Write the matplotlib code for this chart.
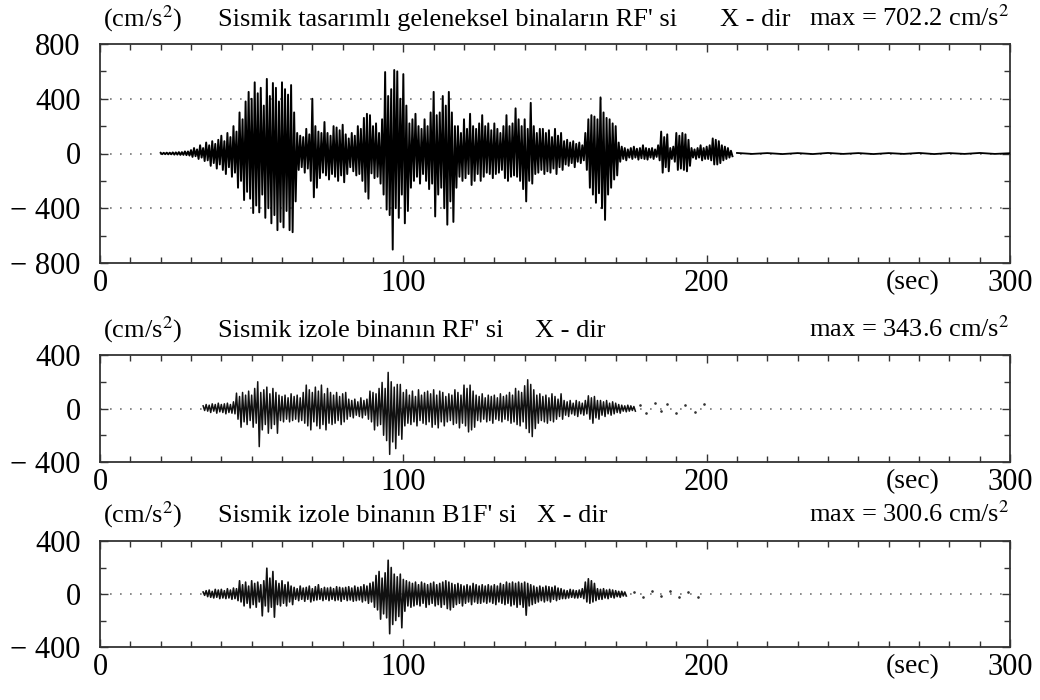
import numpy as np
import matplotlib
matplotlib.use('Agg')
import matplotlib.pyplot as plt
from matplotlib.ticker import MultipleLocator, FixedLocator

plt.rcParams['font.family'] = ['Liberation Serif', 'DejaVu Serif']
plt.rcParams['mathtext.fontset'] = 'stix'

# ---- panel 1 : sismik tasarimli geleneksel bina, RF (peaks read every 1 s, from t = 20 s)
rf1_start = 20
rf1_hi = [5, 5, 6, 6, 8, 8, 10, 10, 15, 15,
          25, 40, 30, 60, 40, 80, 60, 90, 70, 100,
          130, 90, 150, 120, 200, 160, 300, 250, 380, 450,
          400, 520, 440, 480, 350, 545, 420, 515, 480, 380,
          520, 470, 430, 500, 300, 150, 130, 120, 180, 140,
          400, 200, 160, 150, 230, 150, 130, 200, 190, 170,
          210, 140, 110, 150, 130, 200, 180, 260, 290, 280,
          200, 220, 150, 250, 595, 420, 470, 610, 600, 400,
          580, 350, 220, 250, 290, 200, 180, 250, 200, 300,
          450, 280, 300, 420, 350, 450, 300, 200, 200, 150,
          250, 180, 290, 200, 180, 220, 280, 200, 220, 170,
          220, 180, 150, 200, 280, 200, 220, 330, 250, 200,
          250, 180, 370, 200, 150, 180, 180, 150, 170, 120,
          180, 130, 150, 90, 100, 80, 90, 70, 80, 60,
          150, 250, 280, 270, 250, 410, 300, 260, 250, 220,
          200, 80, 50, 40, 30, 40, 50, 35, 40, 60,
          40, 35, 40, 30, 60, 160, 120, 140, 40, 50,
          150, 130, 150, 140, 100, 40, 30, 40, 60, 40,
          50, 60, 110, 100, 90, 60, 50, 40, 20]
rf1_lo = [-5, -5, -6, -6, -8, -8, -10, -10, -12, -15,
          -25, -20, -40, -30, -55, -50, -90, -70, -110, -80,
          -120, -150, -100, -170, -140, -250, -200, -340, -280, -330,
          -435, -380, -430, -300, -470, -400, -510, -450, -560, -500,
          -540, -420, -560, -575, -350, -120, -100, -140, -110, -200,
          -320, -250, -180, -140, -160, -190, -150, -170, -200, -160,
          -210, -150, -100, -130, -160, -150, -200, -280, -330, -145,
          -180, -170, -220, -300, -410, -450, -702, -400, -470, -300,
          -510, -420, -250, -200, -170, -220, -150, -200, -260, -220,
          -460, -300, -250, -400, -520, -350, -500, -250, -170, -200,
          -180, -150, -230, -200, -150, -200, -170, -140, -150, -180,
          -150, -140, -120, -180, -200, -170, -160, -170, -200, -260,
          -350, -200, -220, -150, -140, -120, -150, -130, -140, -110,
          -150, -100, -120, -80, -90, -70, -100, -60, -70, -50,
          -120, -250, -300, -360, -290, -400, -485, -300, -250, -190,
          -160, -60, -40, -50, -30, -40, -30, -45, -35, -40,
          -45, -30, -40, -25, -50, -140, -100, -130, -40, -60,
          -120, -110, -120, -130, -90, -30, -40, -30, -50, -40,
          -40, -50, -80, -80, -70, -50, -40, -30, -20]
# quiet tail after 210 s
rf1_tail_t = [210, 215, 220, 225, 230, 235, 240, 245, 250, 255, 260, 265, 270, 275, 280, 285, 290, 295, 300]
rf1_tail_v = [4, -3, 3, -4, 3, -4, 4, -3, 3, -4, 3, -3, 4, -4, 3, -3, 4, -3, 2]

# ---- panel 2 : sismik izole bina, RF (from t = 34 s)
rf2_start = 34
rf2_hi = [20, 30, 25, 35, 30, 40, 30, 35, 40, 30,
          50, 115, 90, 120, 100, 130, 100, 150, 200, 120,
          140, 160, 110, 150, 120, 100, 90, 100, 80, 110,
          90, 100, 80, 120, 175, 140, 120, 160, 130, 175,
          110, 150, 120, 100, 120, 90, 110, 120, 70, 60,
          70, 50, 80, 60, 70, 130, 120, 110, 150, 195,
          150, 270, 200, 160, 180, 180, 120, 140, 100, 130,
          90, 140, 100, 120, 130, 110, 140, 100, 130, 120,
          90, 110, 100, 140, 120, 100, 175, 150, 175, 130,
          100, 90, 110, 80, 100, 90, 100, 80, 110, 90,
          100, 120, 100, 150, 130, 120, 170, 215, 180, 140,
          100, 110, 90, 100, 80, 110, 90, 70, 110, 60,
          50, 60, 40, 60, 50, 40, 60, 95, 80, 90,
          60, 60, 50, 60, 40, 50, 40, 30, 25, 20,
          25, 20, 15]
rf2_lo = [-15, -20, -30, -20, -35, -25, -30, -40, -30, -35,
          -40, -80, -140, -100, -120, -90, -140, -110, -285, -160,
          -120, -185, -150, -120, -185, -90, -100, -80, -100, -90,
          -80, -100, -90, -110, -130, -160, -100, -130, -150, -120,
          -160, -110, -120, -110, -90, -120, -100, -80, -60, -70,
          -50, -60, -70, -50, -80, -100, -160, -130, -120, -200,
          -240, -343, -250, -300, -200, -230, -130, -110, -120, -100,
          -130, -90, -110, -120, -100, -140, -120, -145, -100, -130,
          -100, -90, -120, -110, -145, -110, -130, -175, -160, -140,
          -90, -100, -80, -100, -90, -110, -80, -90, -100, -80,
          -90, -110, -100, -120, -130, -100, -150, -180, -210, -150,
          -110, -90, -100, -110, -90, -100, -80, -60, -80, -50,
          -60, -40, -50, -60, -40, -50, -40, -80, -110, -70,
          -80, -50, -60, -40, -50, -40, -30, -35, -20, -25,
          -20, -15, -20]
rf2_dot_t = [178, 180, 183, 185, 187, 190, 193, 196, 199]
rf2_dot_v = [25, -30, 40, -20, 30, -35, 25, -25, 35]

# ---- panel 3 : sismik izole bina, B1F (from t = 34 s)
b1_start = 34
b1_hi = [15, 25, 30, 20, 35, 30, 35, 25, 40, 30,
         45, 40, 100, 70, 90, 60, 100, 80, 90, 70,
         100, 195, 120, 170, 100, 80, 100, 70, 90, 60,
         50, 40, 60, 45, 50, 60, 40, 55, 70, 40,
         50, 45, 50, 40, 55, 50, 45, 50, 55, 45,
         60, 50, 55, 70, 60, 80, 90, 140, 170, 120,
         160, 255, 200, 150, 130, 150, 110, 100, 90, 80,
         90, 70, 90, 80, 70, 80, 90, 70, 80, 90,
         100, 90, 80, 70, 80, 70, 60, 70, 60, 80,
         70, 60, 70, 60, 70, 60, 70, 60, 80, 70,
         90, 80, 90, 80, 90, 80, 90, 80, 70, 60,
         50, 60, 50, 60, 55, 50, 60, 45, 40, 30,
         25, 35, 30, 25, 30, 40, 90, 115, 100, 80,
         40, 35, 40, 30, 35, 30, 25, 20, 20, 15]
b1_lo = [-10, -20, -25, -30, -25, -35, -30, -35, -30, -40,
         -35, -50, -60, -90, -70, -105, -80, -100, -60, -165,
         -90, -135, -100, -175, -80, -90, -70, -90, -60, -80,
         -40, -50, -40, -55, -40, -60, -50, -45, -40, -50,
         -40, -50, -40, -50, -45, -55, -40, -50, -45, -55,
         -50, -45, -60, -50, -70, -60, -100, -120, -190, -150,
         -180, -300, -230, -200, -170, -255, -130, -90, -100, -90,
         -80, -90, -70, -100, -80, -70, -90, -80, -100, -80,
         -110, -120, -100, -80, -70, -90, -70, -60, -80, -60,
         -70, -70, -60, -70, -60, -70, -80, -60, -70, -80,
         -70, -90, -80, -100, -80, -100, -160, -90, -80, -70,
         -60, -50, -60, -50, -60, -40, -50, -40, -35, -35,
         -30, -25, -30, -30, -25, -35, -60, -70, -60, -50,
         -40, -40, -30, -35, -25, -30, -20, -25, -15, -15]
b1_dot_t = [176, 179, 182, 185, 188, 191, 194, 197]
b1_dot_v = [15, -20, 20, -15, 25, -20, 15, -20]

titles = ["Sismik tasarımlı geleneksel binaların RF' si",
          "Sismik izole binanın RF' si",
          "Sismik izole binanın B1F' si"]
max_text = ["max = 702.2 cm/s$^2$", "max = 343.6 cm/s$^2$", "max = 300.6 cm/s$^2$"]


def trace(ax, start, hi, lo, color, lw):
    t = start + np.arange(len(hi))
    x = np.column_stack([t, t + 0.5]).ravel()
    y = np.column_stack([hi, lo]).ravel()
    ax.plot(x, y, color=color, lw=lw, zorder=3)


W, H = 1040, 700
fig = plt.figure(figsize=(W / 100, H / 100), dpi=100)

# axes boxes in pixels (left, top, right, bottom)
boxes = [(100, 44, 1010, 263), (100, 355, 1010, 462), (100, 541, 1010, 647)]
axes = []
for (l, t, r, b) in boxes:
    axes.append(fig.add_axes([l / W, 1 - b / H, (r - l) / W, (b - t) / H]))

ax1, ax2, ax3 = axes
trace(ax1, rf1_start, rf1_hi, rf1_lo, 'black', 1.4)
ax1.plot(rf1_tail_t, rf1_tail_v, color='black', lw=1.3, zorder=3)
trace(ax2, rf2_start, rf2_hi, rf2_lo, '#111111', 1.1)
ax2.scatter(rf2_dot_t, rf2_dot_v, s=0.8, color='#333333', zorder=3)
trace(ax3, b1_start, b1_hi, b1_lo, '#111111', 1.2)
ax3.scatter(b1_dot_t, b1_dot_v, s=0.8, color='#333333', zorder=3)

ax1.set_ylim(-800, 800)
ax1.yaxis.set_major_locator(FixedLocator([-800, -400, 0, 400, 800]))
ax1.yaxis.set_minor_locator(FixedLocator([-600, -200, 200, 600]))
ax1.set_yticklabels(['\u2212 800', '\u2212 400', '0', '400', '800'])
for y in (-400, 0, 400):
    ax1.axhline(y, color='#777777', lw=1.2, ls=(0, (1, 5)), zorder=1)

for ax in (ax2, ax3):
    ax.set_ylim(-400, 400)
    ax.yaxis.set_major_locator(FixedLocator([-400, 0, 400]))
    ax.yaxis.set_minor_locator(FixedLocator([-200, 200]))
    ax.set_yticklabels(['\u2212 400', '0', '400'])
    ax.axhline(0, color='#777777', lw=1.2, ls=(0, (1, 5)), zorder=1)

for ax in axes:
    ax.set_xlim(0, 300)
    ax.xaxis.set_major_locator(FixedLocator([0, 100, 200, 300]))
    ax.xaxis.set_minor_locator(MultipleLocator(10))
    ax.tick_params(which='both', direction='in', top=True, right=True,
                   labelsize=22, width=1.0, color='#333333')
    ax.tick_params(which='major', length=6)
    ax.tick_params(which='minor', length=4)
    ax.tick_params(axis='x', pad=4)
    ax.tick_params(axis='y', pad=14)
    for s in ax.spines.values():
        s.set_linewidth(1.3)
        s.set_color('#333333')
    ax.annotate('(sec)', xy=(268, 0), xycoords=('data', 'axes fraction'),
                xytext=(0, -5), textcoords='offset points',
                ha='center', va='top', fontsize=20)

# header lines above each panel (baselines in pixels)
base_y = [26, 337, 522]
xdir_x = [720, 535, 537]
for i in range(3):
    yy = 1 - base_y[i] / H
    fig.text(103 / W, yy, '(cm/s$^2$)', fontsize=19, va='baseline')
    fig.text(218 / W, yy, titles[i], fontsize=19, va='baseline')
    fig.text(xdir_x[i] / W, yy, 'X - dir', fontsize=19, va='baseline')
    fig.text(1010 / W, yy, max_text[i], fontsize=19, va='baseline', ha='right')

fig.savefig('out.png', dpi=100)
